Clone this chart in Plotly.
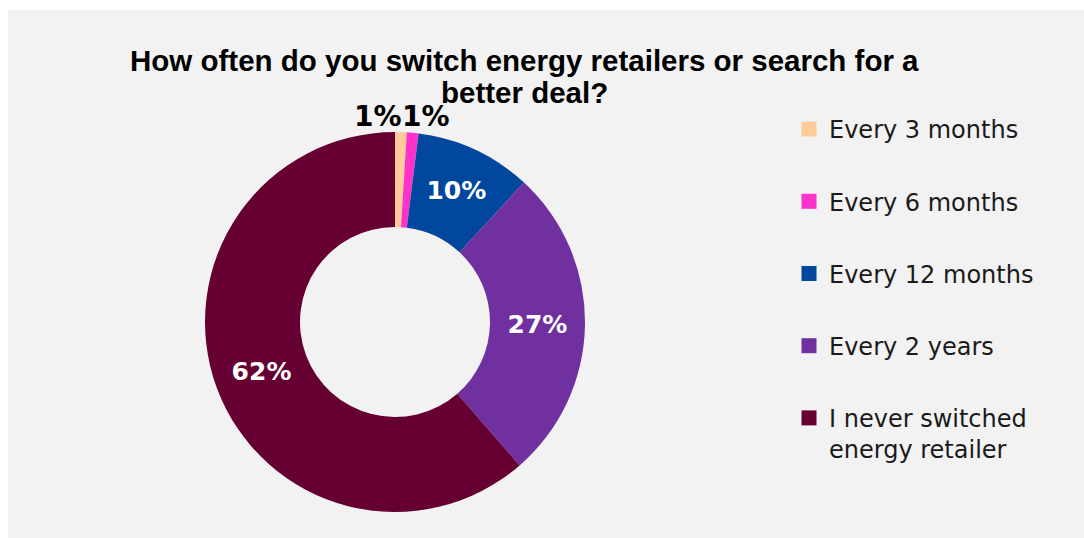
import plotly.graph_objects as go

# Survey answers, in slice order (clockwise from 12 o'clock)
categories = [
    "Every 3 months",
    "Every 6 months",
    "Every 12 months",
    "Every 2 years",
    "I never switched<br>energy retailer",
]
shares = [1, 1, 10, 27, 62]  # percent of respondents
slice_colors = ["#FFCC99", "#FF33CC", "#00479D", "#7030A0", "#660033"]

title_lines = [
    "How often do you switch energy retailers or search for a",
    "better deal?",
]

W, H = 1084, 538
BG = "#F2F2F2"

# Donut placement in pixels (centre and outer radius)
cx, cy, r = 395, 322, 190

# The two thin slices get their labels side by side above the ring
small = [0, 1]
small_label_px = {0: (378, 117), 1: (426, 117)}

fig = go.Figure()
fig.add_trace(
    go.Pie(
        labels=categories,
        values=shares,
        hole=0.5,
        sort=False,
        direction="clockwise",
        rotation=0,
        marker=dict(colors=slice_colors, line=dict(width=0)),
        texttemplate="%{value}%",
        textposition=["none" if i in small else "inside" for i in range(len(shares))],
        insidetextorientation="horizontal",
        insidetextfont=dict(family="DejaVu Sans", size=25, color="white", weight="bold"),
        domain=dict(
            x=[(cx - r) / W, (cx + r) / W],
            y=[(H - cy - r) / H, (H - cy + r) / H],
        ),
        showlegend=False,
        hoverinfo="label+percent",
    )
)

# Legend entries, one group per category so the entries can be spaced apart
for name, col in zip(categories, slice_colors):
    fig.add_trace(
        go.Scatter(
            x=[None], y=[None], mode="markers", name=name, legendgroup=name,
            marker=dict(symbol="square", size=15, color=col),
            hoverinfo="skip",
        )
    )

# Title: two lines set a little tighter than the default line spacing
annotations = []
for line, top_px in zip(title_lines, [42, 74]):
    annotations.append(
        dict(
            text=line, xref="paper", yref="paper", x=524 / W, y=(H - top_px) / H,
            xanchor="center", yanchor="top", showarrow=False,
            font=dict(family="Liberation Sans", size=29.5, color="black", weight="bold"),
        )
    )
for i in small:
    px, py = small_label_px[i]
    annotations.append(
        dict(
            text=f"{shares[i]}%", xref="paper", yref="paper",
            x=px / W, y=(H - py) / H, xanchor="center", yanchor="middle",
            showarrow=False,
            font=dict(family="DejaVu Sans", size=28, color="black", weight="bold"),
        )
    )

fig.update_layout(
    width=W,
    height=H,
    margin=dict(l=0, r=0, t=0, b=0),
    paper_bgcolor=BG,
    plot_bgcolor=BG,
    xaxis=dict(visible=False),
    yaxis=dict(visible=False),
    annotations=annotations,
    legend=dict(
        x=789 / W,
        y=(H - 107) / H,
        xanchor="left",
        yanchor="top",
        traceorder="grouped",
        tracegroupgap=38,
        valign="top",
        bgcolor="rgba(0,0,0,0)",
        font=dict(family="DejaVu Sans", size=24, color="#1a1a1a"),
    ),
    shapes=[
        # white frame strips along the top and left edges
        dict(type="rect", xref="paper", yref="paper", x0=0, x1=1, y0=(H - 10) / H, y1=1,
             fillcolor="white", line=dict(width=0), layer="below"),
        dict(type="rect", xref="paper", yref="paper", x0=0, x1=8 / W, y0=0, y1=1,
             fillcolor="white", line=dict(width=0), layer="below"),
    ],
)

fig.write_html("out.html")
